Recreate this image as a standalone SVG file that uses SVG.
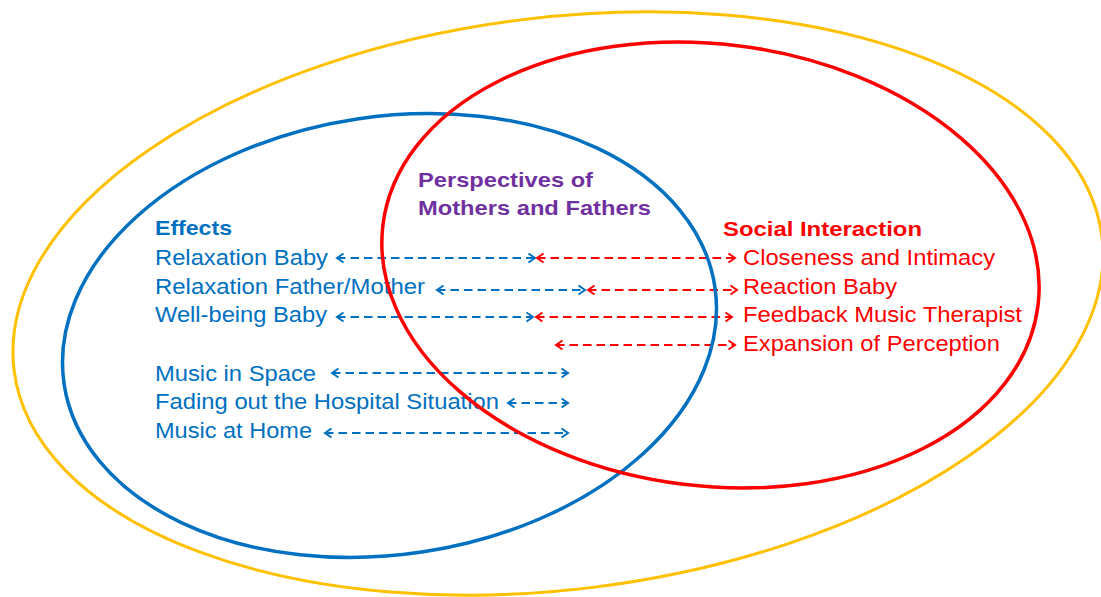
<svg xmlns="http://www.w3.org/2000/svg" width="1101" height="597" viewBox="0 0 1101 597">
<style>
text{font-family:"Liberation Sans",Arial,sans-serif;}
.reg{font-size:22px;}
.bold{font-size:21px;font-weight:bold;}
.blue{fill:#0070C0;}
.red{fill:#FF0000;}
.purple{fill:#7030A0;}
.ring{fill:none;}
.cb{stroke:#0070C0;stroke-width:2;stroke-dasharray:8.5 5;fill:none;}
.cr{stroke:#FF0000;stroke-width:2;stroke-dasharray:8.5 5;fill:none;}
</style>
<defs>
<marker id="mb" markerUnits="userSpaceOnUse" orient="auto-start-reverse" markerWidth="10" markerHeight="10" refX="0" refY="0" overflow="visible">
<path d="M-6.5,-4.5 L0,0 L-6.5,4.5" fill="none" stroke="#0070C0" stroke-width="2"/>
</marker>
<marker id="mr" markerUnits="userSpaceOnUse" orient="auto-start-reverse" markerWidth="10" markerHeight="10" refX="0" refY="0" overflow="visible">
<path d="M-6.5,-4.5 L0,0 L-6.5,4.5" fill="none" stroke="#FF0000" stroke-width="2"/>
</marker>
</defs>
<rect width="1101" height="597" fill="#FFFFFF"/>
<g id="connectors">
<line class="cb" x1="337" y1="258" x2="535" y2="258" marker-start="url(#mb)" marker-end="url(#mb)"/>
<line class="cr" x1="537" y1="258" x2="735" y2="258" marker-start="url(#mr)" marker-end="url(#mr)"/>
<line class="cb" x1="437" y1="290" x2="585" y2="290" marker-start="url(#mb)" marker-end="url(#mb)"/>
<line class="cr" x1="588" y1="290" x2="737" y2="290" marker-start="url(#mr)" marker-end="url(#mr)"/>
<line class="cb" x1="337" y1="317" x2="533" y2="317" marker-start="url(#mb)" marker-end="url(#mb)"/>
<line class="cr" x1="536" y1="317" x2="732" y2="317" marker-start="url(#mr)" marker-end="url(#mr)"/>
<line class="cr" x1="556" y1="345" x2="735" y2="345" marker-start="url(#mr)" marker-end="url(#mr)"/>
<line class="cb" x1="332" y1="373" x2="568" y2="373" marker-start="url(#mb)" marker-end="url(#mb)"/>
<line class="cb" x1="508" y1="403" x2="568" y2="403" marker-start="url(#mb)" marker-end="url(#mb)"/>
<line class="cb" x1="325" y1="433" x2="568" y2="433" marker-start="url(#mb)" marker-end="url(#mb)"/>
</g>
<g id="perspectives">
<ellipse class="ring" cx="558" cy="303.5" rx="548" ry="286" transform="rotate(-7 558 303.5)" stroke="#FFC000" stroke-width="3"/>
<text class="bold purple" x="418" y="187" textLength="175" lengthAdjust="spacingAndGlyphs">Perspectives of</text>
<text class="bold purple" x="418" y="215" textLength="233" lengthAdjust="spacingAndGlyphs">Mothers and Fathers</text>
</g>
<g id="effects">
<text class="bold blue" x="155" y="235" textLength="77" lengthAdjust="spacingAndGlyphs">Effects</text>
<text class="reg blue" x="155" y="265" textLength="173" lengthAdjust="spacingAndGlyphs">Relaxation Baby</text>
<text class="reg blue" x="155" y="294" textLength="270" lengthAdjust="spacingAndGlyphs">Relaxation Father/Mother</text>
<text class="reg blue" x="155" y="322" textLength="172" lengthAdjust="spacingAndGlyphs">Well-being Baby</text>
<text class="reg blue" x="155" y="381" textLength="161" lengthAdjust="spacingAndGlyphs">Music in Space</text>
<text class="reg blue" x="155" y="409" textLength="344" lengthAdjust="spacingAndGlyphs">Fading out the Hospital Situation</text>
<text class="reg blue" x="155" y="438" textLength="157" lengthAdjust="spacingAndGlyphs">Music at Home</text>
<ellipse class="ring" cx="389.5" cy="335.5" rx="329" ry="219" transform="rotate(-8.5 389.5 335.5)" stroke="#0070C0" stroke-width="3.5"/>
</g>
<g id="social">
<text class="bold red" x="723" y="236" textLength="199" lengthAdjust="spacingAndGlyphs">Social Interaction</text>
<text class="reg red" x="743" y="265" textLength="252" lengthAdjust="spacingAndGlyphs">Closeness and Intimacy</text>
<text class="reg red" x="743" y="294" textLength="154" lengthAdjust="spacingAndGlyphs">Reaction Baby</text>
<text class="reg red" x="743" y="322" textLength="279" lengthAdjust="spacingAndGlyphs">Feedback Music Therapist</text>
<text class="reg red" x="743" y="351" textLength="257" lengthAdjust="spacingAndGlyphs">Expansion of Perception</text>
<ellipse class="ring" cx="710.5" cy="265" rx="330" ry="221" transform="rotate(7 710.5 265)" stroke="#FF0000" stroke-width="3.5"/>
</g>
</svg>
